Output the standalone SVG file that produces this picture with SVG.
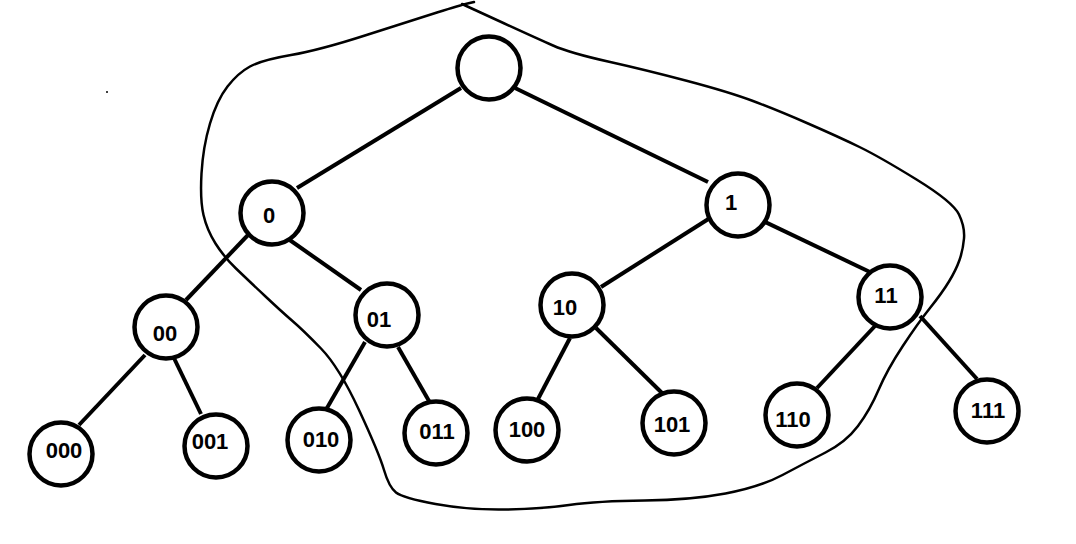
<svg xmlns="http://www.w3.org/2000/svg" width="1076" height="544" viewBox="0 0 1076 544">
<style>
.n{fill:#fff;stroke:#000;stroke-width:4.5}
.e{stroke:#000;stroke-width:4;stroke-linecap:butt}
.t{font-family:"Liberation Sans",Arial,sans-serif;font-size:22px;font-weight:bold;text-anchor:middle;fill:#000}
.o{fill:none;stroke:#000;stroke-width:2.5;stroke-linejoin:round;stroke-linecap:round}
</style>
<rect width="1076" height="544" fill="#fff"/>
<g id="connectors">
<line class="e" x1="461" y1="88" x2="297" y2="188"/>
<line class="e" x1="515" y1="88" x2="708" y2="182"/>
<line class="e" x1="248" y1="235" x2="186" y2="300"/>
<line class="e" x1="284" y1="236" x2="361" y2="290"/>
<line class="e" x1="710" y1="218" x2="601" y2="287"/>
<line class="e" x1="761" y1="220" x2="872" y2="273"/>
<line class="e" x1="145" y1="355" x2="79" y2="425"/>
<line class="e" x1="172" y1="354" x2="201" y2="414"/>
<line class="e" x1="365" y1="342" x2="327" y2="408"/>
<line class="e" x1="398" y1="347" x2="429" y2="401"/>
<line class="e" x1="570" y1="338" x2="538" y2="399"/>
<line class="e" x1="596" y1="328" x2="662" y2="393"/>
<line class="e" x1="875" y1="326" x2="817" y2="388"/>
<line class="e" x1="920" y1="316" x2="977" y2="379"/>
</g>
<g id="outline">
<path class="o" d="M474,2 L467.5,3.5 Q461,5 437,12.5 Q413,20 366.5,35 Q320,50 291,55 Q262,60 250,66.5 Q238,73 227.5,86.5 Q217,100 210,123.5 Q203,147 201.5,173.5 Q200,200 203.5,215 Q207,230 215.5,243.5 Q224,257 236,268.5 Q248,280 265,296 Q282,312 292.5,321 Q303,330 321,348.5 Q339,367 359,410 Q379,453 384,470 Q389,487 396,492.5 Q403,498 435.5,504 Q468,510 504,509.5 Q540,509 569,505 Q598,501 644.5,500.5 Q691,500 725.5,493.5 Q760,487 782.5,475 Q805,463 825.5,452.5 Q846,442 858,426 Q870,410 878.5,390 Q887,370 902.5,346.5 Q918,323 930,308 Q942,293 949,281.5 Q956,270 959.5,260 Q963,250 964,238.5 Q965,227 959,214.5 Q953,202 916.5,179.5 Q880,157 859.5,147 Q839,137 808,123.5 Q777,110 753,101 Q729,92 687.5,81 Q646,70 608,61.5 Q570,53 553,45.5 Q536,38 499,21 L462,4"/>
<circle cx="107" cy="92" r="1" fill="#000"/>
</g>
<g id="node-root"><circle class="n" cx="489" cy="68" r="31.5"/></g>
<g id="node-0"><circle class="n" cx="272" cy="213" r="31.5"/><text class="t" x="269" y="223">0</text></g>
<g id="node-1"><circle class="n" cx="738" cy="205" r="31.5"/><text class="t" x="731" y="210">1</text></g>
<g id="node-00"><circle class="n" cx="166" cy="327" r="31.5"/><text class="t" x="165" y="341">00</text></g>
<g id="node-01"><circle class="n" cx="387" cy="315" r="31.5"/><text class="t" x="379" y="327">01</text></g>
<g id="node-10"><circle class="n" cx="572" cy="305" r="31.5"/><text class="t" x="565" y="315">10</text></g>
<g id="node-11"><circle class="n" cx="890" cy="297" r="31.5"/><text class="t" x="886" y="303">11</text></g>
<g id="node-000"><circle class="n" cx="61" cy="454" r="31.5"/><text class="t" x="64" y="458">000</text></g>
<g id="node-001"><circle class="n" cx="216" cy="446" r="31.5"/><text class="t" x="210" y="449">001</text></g>
<g id="node-010"><circle class="n" cx="319" cy="440" r="31.5"/><text class="t" x="321" y="447">010</text></g>
<g id="node-011"><circle class="n" cx="436" cy="433" r="31.5"/><text class="t" x="437" y="439">011</text></g>
<g id="node-100"><circle class="n" cx="527" cy="430" r="31.5"/><text class="t" x="527" y="437">100</text></g>
<g id="node-101"><circle class="n" cx="674" cy="423" r="31.5"/><text class="t" x="672" y="432">101</text></g>
<g id="node-110"><circle class="n" cx="797" cy="415" r="31.5"/><text class="t" x="793" y="427">110</text></g>
<g id="node-111"><circle class="n" cx="987" cy="411" r="31.5"/><text class="t" x="988" y="418">111</text></g>
</svg>
